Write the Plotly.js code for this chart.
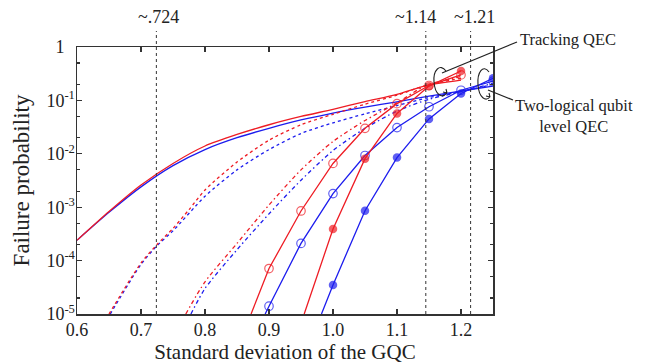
<!DOCTYPE html>
<html><head><meta charset="utf-8">
<script src="https://cdn.plot.ly/plotly-3.0.1.min.js"></script>
<style>html,body{margin:0;padding:0;background:#fff}#chart{width:656px;height:364px}</style>
</head><body><div id="chart"></div>
<script>
// ---- data ----
const thresholds = [0.724, 1.145, 1.215];
const thresholdLabels = ['~.724', '~1.14', '~1.21'];

// Tracking QEC (red)
const redSolidX = [0.6, 0.65, 0.7, 0.75, 0.8, 0.85, 0.9, 0.95, 1.0, 1.05, 1.1, 1.145, 1.2];
const redSolidY = [2.4e-4, 8.3e-4, 2.6e-3, 6.6e-3, 1.4e-2, 2.3e-2, 3.5e-2, 5.0e-2, 6.8e-2, 9.5e-2, 0.13, 0.19, 0.24];
const redDash1X = [0.65, 0.7, 0.725, 0.75, 0.775, 0.8, 0.85, 0.9, 0.95, 1.0, 1.05, 1.1, 1.145, 1.2];
const redDash1Y = [1e-5, 9e-5, 2e-4, 4e-4, 9e-4, 2.1e-3, 7e-3, 1.8e-2, 3.5e-2, 5.5e-2, 8.5e-2, 0.125, 0.19, 0.26];
const redDash2X = [0.77, 0.8, 0.85, 0.9, 0.95, 1.0, 1.05, 1.1, 1.145, 1.2];
const redDash2Y = [1e-5, 4e-5, 2.1e-4, 1.1e-3, 5e-3, 1.7e-2, 4.2e-2, 9e-2, 0.19, 0.28];
const redOpenX = [0.872, 0.9, 0.95, 1.0, 1.05, 1.1, 1.15, 1.2];
const redOpenY = [1e-5, 7.1e-5, 8.5e-4, 6.6e-3, 3.0e-2, 8.7e-2, 0.19, 0.30];
const redFilledX = [0.955, 1.0, 1.05, 1.1, 1.15, 1.2];
const redFilledY = [1e-5, 3.9e-4, 8.1e-3, 5.7e-2, 0.185, 0.355];

// Two-logical qubit level QEC (blue)
const blueSolidX = [0.6, 0.65, 0.7, 0.75, 0.8, 0.85, 0.9, 0.95, 1.0, 1.05, 1.1, 1.15, 1.215, 1.25];
const blueSolidY = [2.4e-4, 8.0e-4, 2.4e-3, 6.0e-3, 1.2e-2, 2.0e-2, 3.0e-2, 4.3e-2, 5.8e-2, 7.5e-2, 9.4e-2, 0.12, 0.16, 0.185];
const blueDash1X = [0.652, 0.7, 0.725, 0.75, 0.8, 0.85, 0.9, 0.95, 1.0, 1.05, 1.1, 1.15, 1.215, 1.25];
const blueDash1Y = [1e-5, 8.5e-5, 1.9e-4, 3.6e-4, 1.6e-3, 5e-3, 1.2e-2, 2.4e-2, 3.8e-2, 5.6e-2, 8e-2, 0.113, 0.16, 0.2];
const blueDash2X = [0.778, 0.8, 0.85, 0.9, 0.95, 1.0, 1.05, 1.1, 1.15, 1.215, 1.25];
const blueDash2Y = [1e-5, 3e-5, 1.6e-4, 7.5e-4, 3.2e-3, 1.15e-2, 3e-2, 6.3e-2, 0.105, 0.16, 0.21];
const blueOpenX = [0.894, 0.9, 0.95, 1.0, 1.05, 1.1, 1.15, 1.2, 1.25];
const blueOpenY = [1e-5, 1.4e-5, 2.1e-4, 1.8e-3, 9.3e-3, 3.1e-2, 7.6e-2, 0.155, 0.23];
const blueFilledX = [0.982, 1.0, 1.05, 1.1, 1.15, 1.2, 1.25];
const blueFilledY = [1e-5, 3.5e-5, 8.6e-4, 8.5e-3, 4.5e-2, 0.135, 0.26];

const xTickVals = [0.6, 0.7, 0.8, 0.9, 1.0, 1.1, 1.2];
const xTickText = ['0.6', '0.7', '0.8', '0.9', '1.0', '1.1', '1.2'];
const yTickVals = [1e-5, 1e-4, 1e-3, 1e-2, 1e-1, 1];
const yTickText = ['10<sup>-5</sup>', '10<sup>-4</sup>', '10<sup>-3</sup>', '10<sup>-2</sup>', '10<sup>-1</sup>',
                   '1<sup><span style="color:rgba(0,0,0,0)">-1</span></sup>'];

// ---- styling ----
const RED = 'rgb(238,28,36)';
const BLUE = 'rgb(28,28,238)';
const LW = 1.3;
const MS = 8.5;

function lineTrace(x, y, color, dash) {
  return {x, y, type: 'scatter', mode: 'lines', line: {color, width: LW, dash, shape: 'spline', smoothing: 0.7}, hoverinfo: 'skip'};
}
function markerTrace(x, y, color, open) {
  // first point is where the line leaves the bottom of the frame: no marker there
  const sizes = y.map(v => v <= 1.0001e-5 ? 0 : MS);
  return {x, y, type: 'scatter', mode: 'lines+markers', line: {color, width: LW},
    marker: {symbol: open ? 'circle-open' : 'circle', size: sizes, color,
             line: {color, width: open ? 1.2 : 0}}, hoverinfo: 'skip'};
}

const DASH1 = '3px,3px';
const DASH2 = '4px,3px,1.5px,3px';

const traces = [
  lineTrace(blueSolidX, blueSolidY, BLUE, 'solid'),
  lineTrace(redSolidX, redSolidY, RED, 'solid'),
  lineTrace(blueDash1X, blueDash1Y, BLUE, DASH1),
  lineTrace(redDash1X, redDash1Y, RED, DASH1),
  lineTrace(blueDash2X, blueDash2Y, BLUE, DASH2),
  lineTrace(redDash2X, redDash2Y, RED, DASH2),
  markerTrace(blueOpenX, blueOpenY, BLUE, true),
  markerTrace(redOpenX, redOpenY, RED, true),
  markerTrace(blueFilledX, blueFilledY, BLUE, false),
  markerTrace(redFilledX, redFilledY, RED, false)
];

// plot-area pixel geometry -> paper coords for decorations
const PL = 77, PR = 493, PT = 47, PB = 314;
const px = v => (v - PL) / (PR - PL);
const py = v => (PB - v) / (PB - PT);
function path(pts) { // pts: list of [cmd, x1,y1, x2,y2, ...] in pixels
  return pts.map(p => p[0] + ' ' + p.slice(1).reduce((a, v, i) => a + (i % 2 === 0 ? px(v).toFixed(4) + ',' : py(v).toFixed(4) + ' '), '')).join(' ');
}

const shapes = [];
thresholds.forEach(t => shapes.push({type: 'line', xref: 'x', yref: 'paper', x0: t, x1: t, y0: 0, y1: py(31),
  line: {color: '#333', width: 1, dash: 'dot'}}));
// pointer lines
shapes.push({type: 'line', xref: 'paper', yref: 'paper', x0: px(517), y0: py(42), x1: px(442), y1: py(73), line: {color: '#222', width: 1.2}});
shapes.push({type: 'line', xref: 'paper', yref: 'paper', x0: px(513), y0: py(100), x1: px(488), y1: py(90), line: {color: '#222', width: 1.2}});
// curled arrows around the curve bundles
shapes.push({type: 'path', xref: 'paper', yref: 'paper', line: {color: '#222', width: 1.1},
  path: path([['M', 446, 71], ['C', 440, 63, 433, 70, 434, 82], ['C', 435, 95, 442, 99, 447, 93], ['M', 447, 93], ['L', 443, 92], ['M', 447, 93], ['L', 446, 89]])});
shapes.push({type: 'path', xref: 'paper', yref: 'paper', line: {color: '#222', width: 1.1},
  path: path([['M', 489, 72], ['C', 483, 64, 477, 72, 478, 85], ['C', 479, 98, 486, 102, 490, 97], ['M', 490, 97], ['L', 486, 96], ['M', 490, 97], ['L', 489, 93]])});

const labelShift = [2, -10, 4];
const annotations = thresholds.map((t, i) => ({x: t, xref: 'x', y: py(17), yref: 'paper', text: thresholdLabels[i],
  showarrow: false, xshift: labelShift[i], font: {size: 18, color: '#222'}, xanchor: 'center', yanchor: 'middle'}));
annotations.push({x: px(568), xref: 'paper', y: py(40), yref: 'paper', text: 'Tracking QEC', showarrow: false,
  font: {size: 16.5, color: '#222'}, xanchor: 'center', yanchor: 'middle'});
annotations.push({x: px(574), xref: 'paper', y: py(116), yref: 'paper', text: 'Two-logical qubit<br>level QEC', showarrow: false,
  font: {size: 16.5, color: '#222'}, xanchor: 'center', yanchor: 'middle', align: 'center'});

const minorY = [];
for (let e = -5; e < 0; e++) { minorY.push(2 * Math.pow(10, e), 5 * Math.pow(10, e)); }

const layout = {
  width: 656, height: 364,
  margin: {l: PL, r: 656 - PR, t: PT, b: 364 - PB},
  paper_bgcolor: '#fff', plot_bgcolor: '#fff',
  showlegend: false,
  font: {family: '"Liberation Serif", "Times New Roman", serif', color: '#222', size: 18},
  xaxis: {range: [0.6, 1.25], tickmode: 'array', tickvals: xTickVals, ticktext: xTickText,
    ticks: 'inside', ticklen: 5, tickwidth: 1.2, tickcolor: '#333', showline: true, linecolor: '#333', linewidth: 1.5,
    mirror: 'ticks', showgrid: false, zeroline: false, fixedrange: true, ticklabelstandoff: -1,
    title: {text: 'Standard deviation of the GQC', font: {size: 21}, standoff: 6}},
  yaxis: {type: 'log', range: [-5, 0], tickmode: 'array', tickvals: yTickVals, ticktext: yTickText,
    ticks: 'inside', ticklen: 5, tickwidth: 1.2, tickcolor: '#333', showline: true, linecolor: '#333', linewidth: 1.5,
    mirror: 'ticks', showgrid: false, zeroline: false, fixedrange: true, ticklabelstandoff: -3,
    minor: {tickmode: 'array', tickvals: minorY, ticks: 'inside', ticklen: 3, tickcolor: '#333', showgrid: false},
    title: {text: 'Failure probability', font: {size: 23}, standoff: 10}},
  shapes, annotations
};

Plotly.newPlot('chart', traces, layout, {displayModeBar: false, staticPlot: true});
</script>
</body></html>
